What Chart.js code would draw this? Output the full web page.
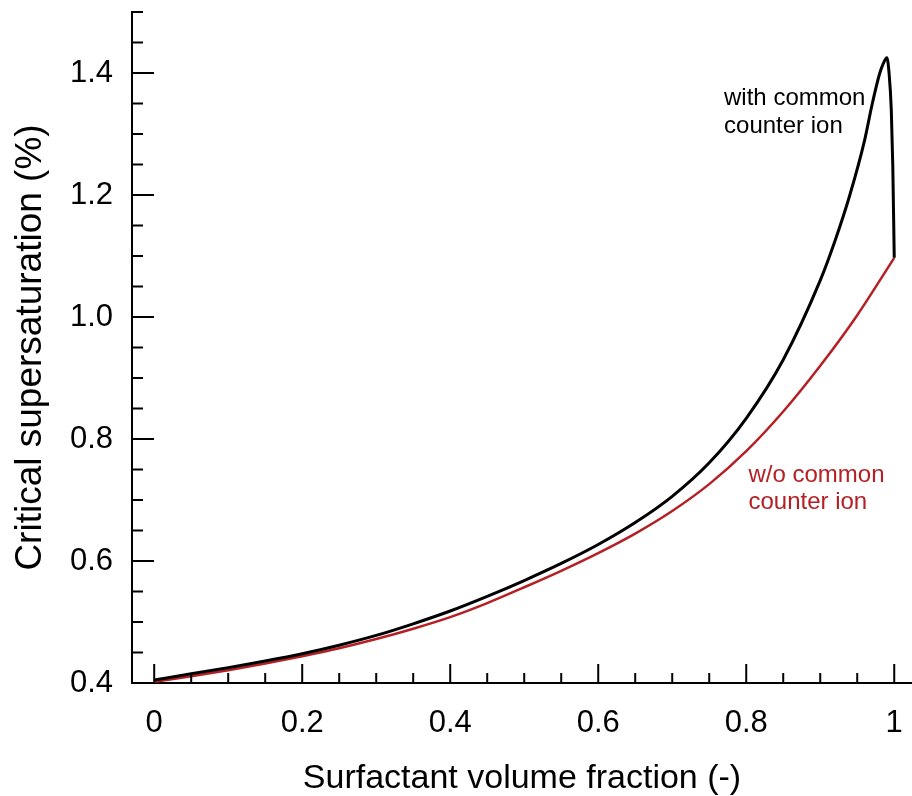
<!DOCTYPE html>
<html>
<head>
<meta charset="utf-8">
<script src="https://cdn.jsdelivr.net/npm/chart.js@4.4.0/dist/chart.umd.min.js"></script>
<style>
  html, body { margin: 0; padding: 0; background: #fff; }
</style>
</head>
<body>
<canvas id="myChart" width="912" height="796"></canvas>
<script>
// surfactant volume fraction / critical supersaturation
var fracWith = [0, 0.05, 0.1, 0.15, 0.2, 0.25, 0.3, 0.35, 0.4, 0.45, 0.5, 0.55, 0.6, 0.65, 0.7, 0.75, 0.8, 0.85, 0.9, 0.92, 0.94, 0.96, 0.97, 0.98, 0.985, 0.99, 0.993, 0.996, 0.998, 1.0];
var satWith = [0.405, 0.415, 0.425, 0.436, 0.448, 0.462, 0.478, 0.497, 0.518, 0.542, 0.568, 0.596, 0.627, 0.663, 0.706, 0.761, 0.834, 0.930, 1.06, 1.125, 1.20, 1.29, 1.348, 1.398, 1.415, 1.425, 1.40, 1.34, 1.25, 1.097];

var fracWithout = [0, 0.05, 0.1, 0.15, 0.2, 0.25, 0.3, 0.35, 0.4, 0.45, 0.5, 0.55, 0.6, 0.65, 0.7, 0.75, 0.8, 0.85, 0.9, 0.95, 1.0];
var satWithout = [0.402, 0.411, 0.421, 0.432, 0.444, 0.457, 0.472, 0.489, 0.508, 0.531, 0.557, 0.584, 0.613, 0.645, 0.682, 0.726, 0.780, 0.845, 0.920, 1.003, 1.097];

var xTicks = [0, 0.2, 0.4, 0.6, 0.8, 1];
var yTicks = [0.4, 0.6, 0.8, 1.0, 1.2, 1.4];
var xMinorTicks = [0.05, 0.1, 0.15, 0.25, 0.3, 0.35, 0.45, 0.5, 0.55, 0.65, 0.7, 0.75, 0.85, 0.9, 0.95];
var yMinorTicks = [0.45, 0.5, 0.55, 0.65, 0.7, 0.75, 0.85, 0.9, 0.95, 1.05, 1.1, 1.15, 1.25, 1.3, 1.35, 1.45, 1.5];

var redLine = 'rgb(180, 32, 36)';
var fontFam = '"Liberation Sans", Arial, Helvetica, sans-serif';

function toPoints(xs, ys) {
  return xs.map(function (x, i) { return { x: x, y: ys[i] }; });
}

// ticks point inward, into the plot
var innerTicks = {
  id: 'innerTicks',
  afterDatasetsDraw: function (chart) {
    var ctx = chart.ctx, xs = chart.scales.x, ys = chart.scales.y;
    var area = chart.chartArea;
    ctx.save();
    ctx.strokeStyle = '#000';
    ctx.lineWidth = 2;
    ctx.beginPath();
    xTicks.forEach(function (v) { var p = xs.getPixelForValue(v); ctx.moveTo(p, area.bottom); ctx.lineTo(p, area.bottom - 19); });
    xMinorTicks.forEach(function (v) { var p = xs.getPixelForValue(v); ctx.moveTo(p, area.bottom); ctx.lineTo(p, area.bottom - 10); });
    yTicks.forEach(function (v) { var p = ys.getPixelForValue(v); ctx.moveTo(area.left, p); ctx.lineTo(area.left + 22, p); });
    yMinorTicks.forEach(function (v) { var p = ys.getPixelForValue(v); ctx.moveTo(area.left, p); ctx.lineTo(area.left + 11, p); });
    ctx.stroke();
    ctx.restore();
  }
};

// curve labels
var curveLabels = {
  id: 'curveLabels',
  afterDatasetsDraw: function (chart) {
    var ctx = chart.ctx, xs = chart.scales.x, ys = chart.scales.y;
    ctx.save();
    ctx.font = '24px ' + fontFam;
    ctx.textAlign = 'left';
    ctx.textBaseline = 'alphabetic';
    ctx.fillStyle = '#000';
    var x1 = xs.getPixelForValue(0.770), y1 = ys.getPixelForValue(1.3475);
    ctx.fillText('with common', x1, y1);
    ctx.fillText('counter ion', x1, y1 + 28);
    ctx.fillStyle = redLine;
    var x2 = xs.getPixelForValue(0.803), y2 = ys.getPixelForValue(0.7295);
    ctx.fillText('w/o common', x2, y2);
    ctx.fillText('counter ion', x2, y2 + 27);
    ctx.restore();
  }
};

var ch = document.getElementById('myChart').getContext('2d');
var myChart = new Chart(ch, {
  type: 'line',
  data: {
    datasets: [{
      label: 'with common counter ion',
      data: toPoints(fracWith, satWith),
      borderColor: '#000',
      backgroundColor: '#000',
      borderWidth: 3,
      pointRadius: 0,
      cubicInterpolationMode: 'monotone'
    },
    {
      label: 'w/o common counter ion',
      data: toPoints(fracWithout, satWithout),
      borderColor: redLine,
      backgroundColor: redLine,
      borderWidth: 2.5,
      pointRadius: 0,
      cubicInterpolationMode: 'monotone'
    }]
  },
  options: {
    responsive: false,
    animation: false,
    layout: { padding: { top: 12, right: 0, left: 0, bottom: 0 } },
    plugins: { legend: { display: false }, tooltip: { enabled: false } },
    scales: {
      x: {
        type: 'linear',
        min: -0.03,
        max: 1.024,
        afterBuildTicks: function (s) { s.ticks = xTicks.map(function (v) { return { value: v }; }); },
        afterFit: function (s) { s.height = 113; s.paddingLeft = 0; s.paddingRight = 0; },
        grid: { drawOnChartArea: false, drawTicks: false },
        border: { color: '#000', width: 2 },
        ticks: {
          color: '#000', padding: 22, maxRotation: 0, autoSkip: false,
          font: { family: fontFam, size: 31 },
          callback: function (v) { return String(v); }
        },
        title: {
          display: true, text: 'Surfactant volume fraction (-)', color: '#000',
          font: { family: fontFam, size: 34 }, padding: { top: 0, bottom: -3 }
        }
      },
      y: {
        type: 'linear',
        min: 0.4,
        max: 1.5,
        afterBuildTicks: function (s) { s.ticks = yTicks.map(function (v) { return { value: v }; }); },
        afterFit: function (s) { s.width = 132; s.paddingTop = 0; s.paddingBottom = 0; },
        grid: { drawOnChartArea: false, drawTicks: false },
        border: { color: '#000', width: 2 },
        ticks: {
          color: '#000', padding: 19, autoSkip: false,
          font: { family: fontFam, size: 31 },
          callback: function (v) { return v.toFixed(1); }
        },
        title: {
          display: true, text: 'Critical supersaturation (%)', color: '#000',
          font: { family: fontFam, size: 37 }, padding: { top: 9, bottom: 0 }
        }
      }
    }
  },
  plugins: [innerTicks, curveLabels]
});
</script>
</body>
</html>
